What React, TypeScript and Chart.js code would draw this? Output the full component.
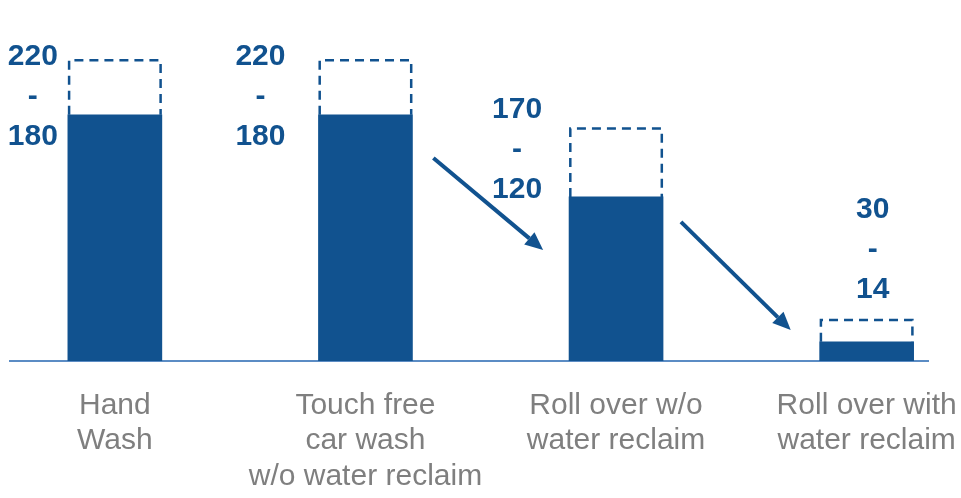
import React, { useEffect, useRef } from "react";
import { Chart, registerables } from "chart.js";

Chart.register(...registerables);

// ---- data ----
const CATEGORY_LABELS: string[][] = [
  ["Hand", "Wash"],
  ["Touch free", "car wash", "w/o water reclaim"],
  ["Roll over w/o", "water reclaim"],
  ["Roll over with", "water reclaim"],
];
const LOW_VALUES = [180, 180, 120, 14];
const HIGH_VALUES = [220, 220, 170, 30];

// ---- styling ----
const BLUE = "#11528F";
const GREY = "#7F7F7F";
const AXIS_BLUE = "#5B8CC4";
const FONT = "'Liberation Sans', Arial, sans-serif";

// label placement relative to each bar (annotation styling)
const LABEL_PLACEMENT = [
  { dx: -82, dy: 37 },
  { dx: -105, dy: 37 },
  { dx: -99, dy: 21.5 },
  { dx: 6, dy: -70 },
];
const LABEL_LINE = 40;

// arrows between bars, in data units (annotations)
const ARROWS = [
  { from: [1.271, 148.5], to: [1.709, 81.2] },
  { from: [2.259, 101.7], to: [2.697, 22.7] },
];

const decorPlugin = {
  id: "rangeDecor",
  afterDatasetsDraw(chart: any) {
    const ctx: CanvasRenderingContext2D = chart.ctx;
    const xs = chart.scales.x;
    const ys = chart.scales.y;
    const meta = chart.getDatasetMeta(0);
    ctx.save();
    // dashed range boxes
    ctx.strokeStyle = BLUE;
    ctx.lineWidth = 2.5;
    ctx.setLineDash([9, 6]);
    meta.data.forEach((bar: any) => {
      const { x, y, base, width } = bar.getProps(["x", "y", "base", "width"], true);
      const l = x - width / 2 + 1.25;
      const r = x + width / 2 - 1.25;
      ctx.beginPath();
      ctx.moveTo(l, base);
      ctx.lineTo(l, y);
      ctx.lineTo(r, y);
      ctx.lineTo(r, base);
      ctx.stroke();
    });
    ctx.setLineDash([]);

    // value labels
    ctx.fillStyle = BLUE;
    ctx.font = `bold 30px ${FONT}`;
    ctx.textAlign = "center";
    ctx.textBaseline = "middle";
    meta.data.forEach((bar: any, i: number) => {
      const p = LABEL_PLACEMENT[i];
      const cx = bar.x + p.dx;
      const cy = ys.getPixelForValue(HIGH_VALUES[i]) + p.dy;
      [String(HIGH_VALUES[i]), "-", String(LOW_VALUES[i])].forEach((t, k) => {
        ctx.fillText(t, cx, cy + (k - 1) * LABEL_LINE);
      });
    });

    // arrows
    ctx.strokeStyle = BLUE;
    ctx.fillStyle = BLUE;
    ctx.lineWidth = 4;
    ARROWS.forEach((a) => {
      const x1 = xs.getPixelForValue(a.from[0]);
      const y1 = ys.getPixelForValue(a.from[1]);
      const x2 = xs.getPixelForValue(a.to[0]);
      const y2 = ys.getPixelForValue(a.to[1]);
      const ang = Math.atan2(y2 - y1, x2 - x1);
      const headLen = 18;
      const headHalf = 8;
      const bx = x2 - headLen * Math.cos(ang);
      const by = y2 - headLen * Math.sin(ang);
      ctx.beginPath();
      ctx.moveTo(x1, y1);
      ctx.lineTo(bx, by);
      ctx.stroke();
      ctx.beginPath();
      ctx.moveTo(x2, y2);
      ctx.lineTo(bx + headHalf * Math.sin(ang), by - headHalf * Math.cos(ang));
      ctx.lineTo(bx - headHalf * Math.sin(ang), by + headHalf * Math.cos(ang));
      ctx.closePath();
      ctx.fill();
    });
    ctx.restore();
  },
};

export default function App() {
  const ref = useRef<HTMLCanvasElement>(null);
  useEffect(() => {
    const chart = new Chart(ref.current!, {
      type: "bar",
      data: {
        datasets: [
          {
            label: "Range",
            data: HIGH_VALUES.map((h, i) => ({ x: i, y: [LOW_VALUES[i], h] })) as any,
            backgroundColor: "rgba(0,0,0,0)",
            borderWidth: 0,
            barThickness: 94,
            grouped: false,
            order: 2,
          },
          {
            label: "Low",
            data: LOW_VALUES.map((v, i) => ({ x: i, y: v })) as any,
            backgroundColor: BLUE,
            borderWidth: 0,
            barThickness: 94,
            grouped: false,
            order: 1,
          },
        ],
      },
      options: {
        responsive: false,
        animation: false,
        layout: { padding: { left: 10, right: 33, top: 0, bottom: 3 } },
        plugins: { legend: { display: false }, tooltip: { enabled: false } },
        scales: {
          x: {
            type: "linear",
            min: -0.4184,
            max: 3.2448,
            offset: false,
            grid: { display: false, drawTicks: false, offset: false },
            border: { display: true, color: AXIS_BLUE, width: 2 },
            afterBuildTicks: (scale: any) => {
              scale.ticks = CATEGORY_LABELS.map((_, i) => ({ value: i }));
            },
            afterFit: (scale: any) => {
              scale.paddingLeft = 0;
              scale.paddingRight = 0;
              scale.height = 134;
            },
            ticks: {
              autoSkip: false,
              maxRotation: 0,
              minRotation: 0,
              padding: 27,
              color: GREY,
              font: { family: FONT, size: 30, lineHeight: 1.18 },
              callback: (value: any) => CATEGORY_LABELS[Math.round(Number(value))] ?? "",
            },
          },
          y: {
            display: false,
            min: 0,
            max: 264,
          },
        },
      } as any,
      plugins: [decorPlugin],
    });
    return () => chart.destroy();
  }, []);
  return (
    <div style={{ position: "fixed", left: 0, top: 0, width: 961, height: 498, background: "#fff" }}>
      <canvas ref={ref} width={961} height={498} style={{ display: "block" }} />
    </div>
  );
}
